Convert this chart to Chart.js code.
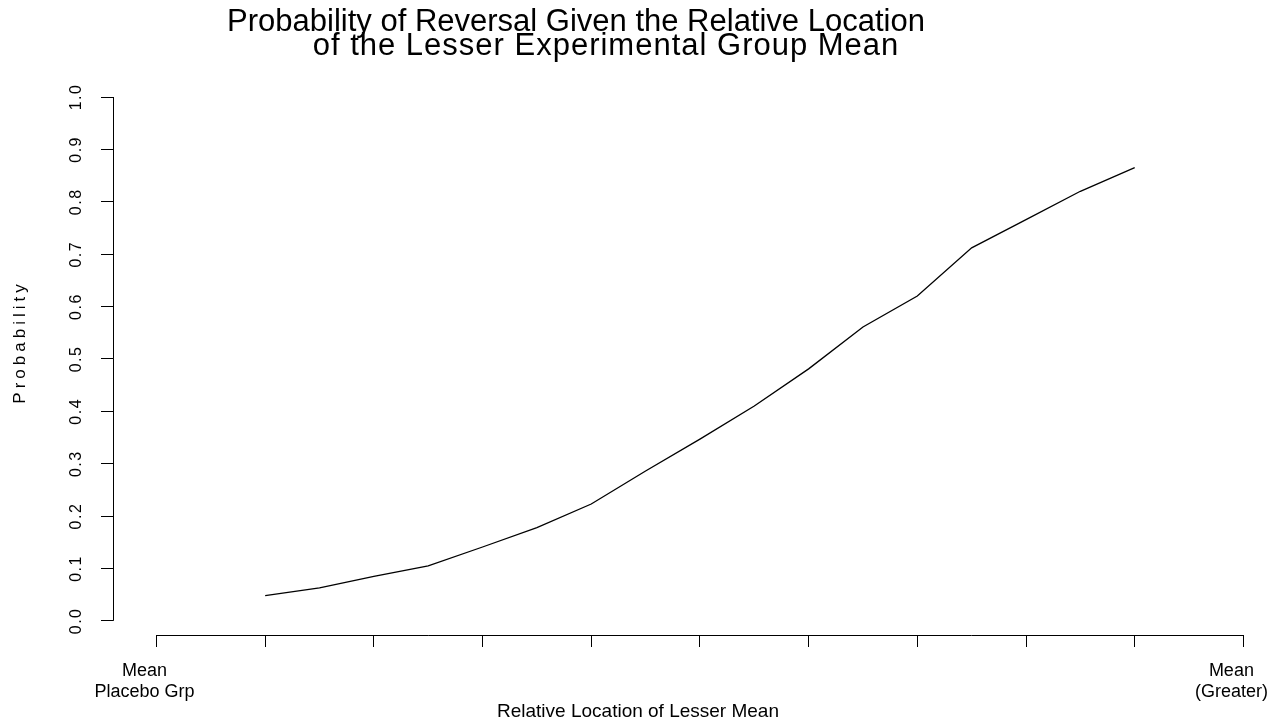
<!DOCTYPE html>
<html>
<head>
<meta charset="utf-8">
<title>Probability of Reversal</title>
<script src="https://cdn.jsdelivr.net/npm/chart.js@4.4.1/dist/chart.umd.min.js"></script>
<style>
  html, body { margin: 0; padding: 0; background: #fff; }
  #wrap { width: 1276px; height: 722px; position: relative; }
</style>
</head>
<body>
<div id="wrap"><canvas id="revChart"></canvas></div>
<script>
// Relative location of the lesser mean (0 = placebo mean, 10 = greater mean)
const locations = [1, 1.5, 2, 2.5, 3, 3.5, 4, 4.5, 5, 5.5, 6, 6.5, 7, 7.5, 8, 8.5, 9];
const probabilities = [0.048, 0.063, 0.085, 0.105, 0.141, 0.178, 0.223, 0.286, 0.347,
                       0.410, 0.481, 0.561, 0.620, 0.712, 0.766, 0.820, 0.865];

// Axis ticks and labels
const xTicks = [0, 1, 2, 3, 4, 5, 6, 7, 8, 9, 10];
const xTickLabels = [["Mean", "Placebo Grp"], "", "", "", "", "", "", "", "", "", ["Mean", "(Greater)"]];
const yTicks = [0.0, 0.1, 0.2, 0.3, 0.4, 0.5, 0.6, 0.7, 0.8, 0.9, 1.0];

const titleLines = ["Probability of Reversal Given the Relative Location",
                    "of the Lesser Experimental Group Mean"];
const xTitle = "Relative Location of Lesser Mean";
const yTitle = "Probability";

const FONT = '"Liberation Sans", Arial, sans-serif';

// R-style extras: axis lines only over the tick range, titles, spaced y labels
const rStyle = {
  id: "rStyle",
  beforeDraw(chart) { chart.ctx.letterSpacing = "1.5px"; },   // only the y axis draws in this phase
  beforeDatasetsDraw(chart) { chart.ctx.letterSpacing = "0px"; },
  afterDraw(chart) {
    const { ctx, chartArea, scales: { x, y } } = chart;
    ctx.save();
    ctx.letterSpacing = "0px";
    ctx.strokeStyle = "#000";
    ctx.lineWidth = 1;
    ctx.beginPath();
    const yb = Math.round(chartArea.bottom) + 0.5;
    ctx.moveTo(x.getPixelForValue(xTicks[0]), yb);
    ctx.lineTo(x.getPixelForValue(xTicks[xTicks.length - 1]), yb);
    const xl = Math.round(chartArea.left) + 0.5;
    ctx.moveTo(xl, y.getPixelForValue(yTicks[0]));
    ctx.lineTo(xl, y.getPixelForValue(yTicks[yTicks.length - 1]));
    ctx.stroke();

    ctx.fillStyle = "#000";
    ctx.textBaseline = "alphabetic";
    ctx.textAlign = "center";
    ctx.font = "31px " + FONT;
    ctx.fillText(titleLines[0], 576, 31);
    // second line sits slightly looser in the original
    ctx.letterSpacing = "1px";
    ctx.fillText(titleLines[1], 606, 55);
    ctx.letterSpacing = "0px";

    ctx.font = "19px " + FONT;
    ctx.fillText(xTitle, 638, 717);

    ctx.translate(20, 342);
    ctx.rotate(-Math.PI / 2);
    ctx.letterSpacing = "4px";
    ctx.font = "17px " + FONT;
    ctx.textBaseline = "middle";
    ctx.fillText(yTitle, 0, 0);
    ctx.restore();
  }
};

const ctx = document.getElementById("revChart").getContext("2d");
new Chart(ctx, {
  type: "line",
  data: {
    datasets: [{
      data: locations.map((v, i) => ({ x: v, y: probabilities[i] })),
      borderColor: "#000",
      borderWidth: 1.3,
      pointRadius: 0,
      fill: false,
      tension: 0
    }]
  },
  options: {
    responsive: true,
    maintainAspectRatio: false,
    animation: false,
    layout: { padding: { top: 97, left: 0, right: 0, bottom: 0 } },
    plugins: { legend: { display: false }, tooltip: { enabled: false } },
    scales: {
      x: {
        type: "linear",
        min: -0.4,
        max: 10.3,
        border: { display: false },
        grid: { drawOnChartArea: false, drawTicks: true, tickLength: 12, color: "#000", lineWidth: 1, z: 1 },
        afterBuildTicks: s => { s.ticks = xTicks.map(v => ({ value: v })); },
        afterFit: s => { s.height = 87; s.paddingLeft = 0; s.paddingRight = 0; },
        ticks: {
          z: 1,
          autoSkip: false,
          maxRotation: 0,
          padding: 13,
          labelOffset: -12,
          color: "#000",
          font: { family: FONT, size: 18, lineHeight: 1.2 },
          callback: (v, i) => xTickLabels[i]
        }
      },
      y: {
        type: "linear",
        min: -0.027,
        max: 1.0,
        border: { display: false },
        grid: { drawOnChartArea: false, drawTicks: true, tickLength: 12, color: "#000", lineWidth: 1 },
        afterBuildTicks: s => { s.ticks = yTicks.map(v => ({ value: v })); },
        afterFit: s => { s.width = 113; },
        ticks: {
          minRotation: 90,
          maxRotation: 90,
          crossAlign: "center",
          padding: 13,
          color: "#000",
          font: { family: FONT, size: 16 },
          callback: v => v.toFixed(1)
        }
      }
    }
  },
  plugins: [rStyle]
});
</script>
</body>
</html>
